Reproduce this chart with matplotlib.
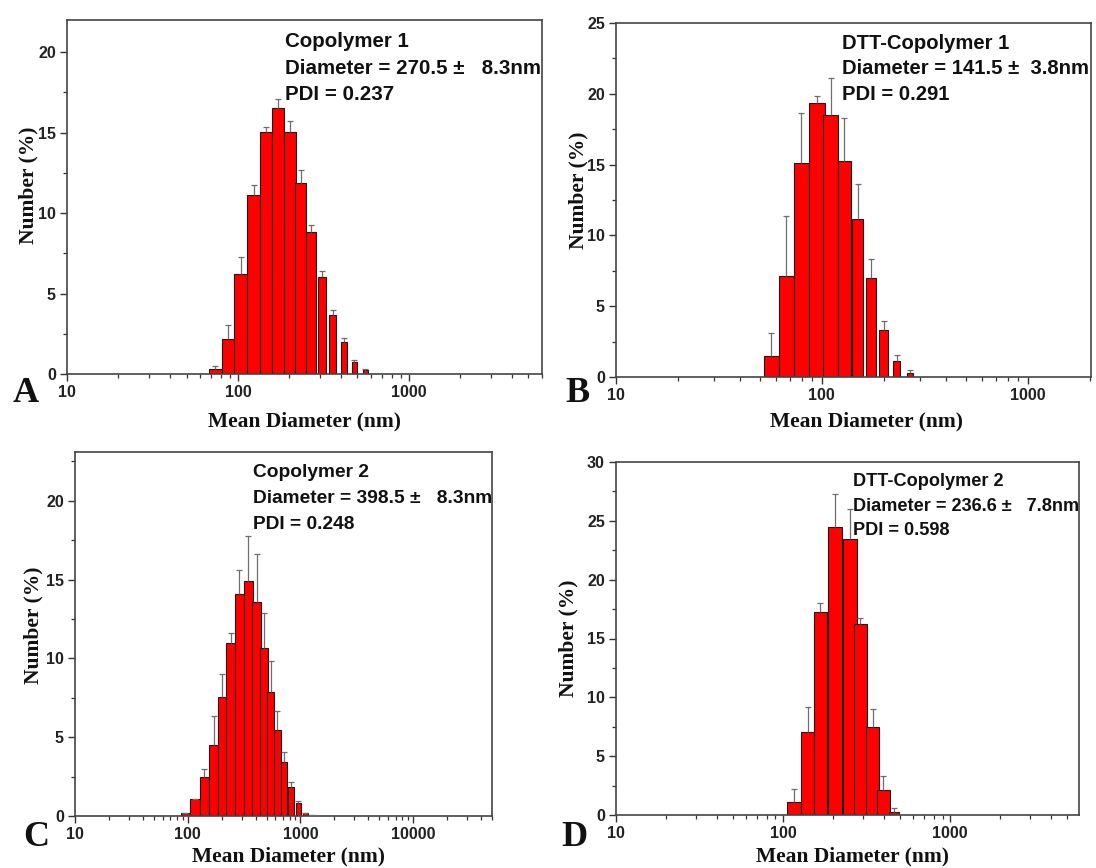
import numpy as np
import matplotlib
matplotlib.use("Agg")
import matplotlib.pyplot as plt
from matplotlib.ticker import LogLocator, FixedLocator, MultipleLocator, NullFormatter, FixedFormatter

# ---------------- data ----------------
# Panel A: Copolymer 1
a_size = [73.8, 87.7, 103.8, 123.3, 145.9, 172.2, 201.8, 232.5, 266.8, 309, 358, 415, 480, 556]
a_number = [0.29, 2.2, 6.2, 11.1, 15.05, 16.5, 15.05, 11.9, 8.8, 6.0, 3.65, 2.0, 0.75, 0.25]
a_err = [0.23, 0.84, 1.09, 0.65, 0.31, 0.62, 0.68, 0.75, 0.48, 0.38, 0.3, 0.22, 0.1, 0.05]

# Panel B: DTT-Copolymer 1
b_size = [56.7, 67.3, 79.5, 94.4, 110.4, 128.8, 149, 172.8, 200, 231, 269]
b_number = [1.46, 7.11, 15.11, 19.35, 18.48, 15.23, 11.18, 7.01, 3.34, 1.15, 0.31]
b_err = [1.64, 4.26, 3.56, 0.47, 2.62, 3.06, 2.42, 1.3, 0.61, 0.4, 0.16]

# Panel C: Copolymer 2
c_size = [95.5, 115.9, 140.7, 169.7, 203.3, 241, 285.8, 344.5, 408.6, 472.8, 545.9,
          622.9, 713.5, 825.6, 956.7, 1107, 1268]
c_number = [0.17, 1.06, 2.45, 4.49, 7.56, 11.0, 14.07, 14.9, 13.6, 10.69, 7.89,
            5.46, 3.42, 1.82, 0.85, 0.17, 0.06]
c_err = [0.03, 0.05, 0.55, 1.88, 1.46, 0.64, 1.51, 2.9, 3.0, 2.2, 1.95,
         1.23, 0.62, 0.36, 0.1, 0.03, 0.02]

# Panel D: DTT-Copolymer 2
d_size = [116.6, 140.2, 167.3, 204, 250, 290, 343, 398, 462]
d_number = [1.13, 7.08, 17.27, 24.48, 23.44, 16.22, 7.5, 2.12, 0.28]
d_err = [1.05, 2.12, 0.76, 2.82, 2.6, 0.56, 1.47, 1.22, 0.29]

# annotation texts
a_text = ["Copolymer 1", "Diameter = 270.5 \u00b1   8.3nm", "PDI = 0.237"]
b_text = ["DTT-Copolymer 1", "Diameter = 141.5 \u00b1  3.8nm", "PDI = 0.291"]
c_text = ["Copolymer 2", "Diameter = 398.5 \u00b1   8.3nm", "PDI = 0.248"]
d_text = ["DTT-Copolymer 2", "Diameter = 236.6 \u00b1   7.8nm", "PDI = 0.598"]

# ---------------- styles (bar widths in decades) ----------------
a_w = [0.078, 0.072, 0.074, 0.074, 0.072, 0.072, 0.066, 0.060, 0.056, 0.046, 0.038, 0.035, 0.033, 0.029]
b_w = [0.072, 0.076, 0.070, 0.078, 0.072, 0.062, 0.058, 0.049, 0.044, 0.033, 0.029]
c_w = [0.08, 0.085, 0.08, 0.08, 0.078, 0.078, 0.078, 0.085, 0.074, 0.068, 0.06, 0.06,
       0.058, 0.05, 0.045, 0.038, 0.038]
d_w = [0.086, 0.076, 0.080, 0.086, 0.084, 0.076, 0.074, 0.074, 0.056]

W, H = 1096, 868
fig = plt.figure(figsize=(W / 100, H / 100), dpi=100)

SANS = ["Liberation Sans", "Arial", "DejaVu Sans"]
SERIF = ["Liberation Serif", "Times New Roman", "DejaVu Serif"]


def px_axes(l, r, t, b):
    return fig.add_axes([l / W, 1 - b / H, (r - l) / W, (b - t) / H])


def fx(x):
    return x / W


def fy(y):
    return 1 - y / H


def panel(box, size, number, err, widths, xlim, ylim, ymajor, xlabels,
          text, text_xy, text_fs, line_gap, ylab_xy, xlab_xy, letter, letter_xy):
    ax = px_axes(*box)
    size = np.asarray(size, float)
    w = np.asarray(widths, float)
    left = size * 10 ** (-w / 2)
    right = size * 10 ** (w / 2)
    ax.bar(left, number, width=right - left, align="edge", color="#ff0000",
           edgecolor="#1a1a1a", linewidth=0.8, zorder=2)
    eb = ax.errorbar(size, number, yerr=[np.zeros(len(err)), err], fmt="none",
                     ecolor="#6e6e6e", elinewidth=0.9, capsize=2.5, capthick=0.9,
                     zorder=3)
    caps = eb[1]
    if len(caps) >= 1:
        caps[0].set_visible(False)
    ax.set_xscale("log")
    ax.set_xlim(*xlim)
    ax.set_ylim(*ylim)
    ax.xaxis.set_major_locator(FixedLocator(xlabels))
    ax.xaxis.set_major_formatter(FixedFormatter([str(v) for v in xlabels]))
    ax.xaxis.set_minor_locator(LogLocator(base=10, subs=np.arange(2, 10), numticks=20))
    ax.xaxis.set_minor_formatter(NullFormatter())
    ax.yaxis.set_major_locator(MultipleLocator(ymajor))
    ax.yaxis.set_minor_locator(MultipleLocator(ymajor / 2))
    ax.tick_params(axis="both", which="major", direction="out", length=5, width=1.0,
                   color="#333333", labelsize=11.5, pad=3)
    ax.tick_params(axis="both", which="minor", direction="out", length=3, width=0.9,
                   color="#333333")
    ax.tick_params(top=False, right=False, which="both")
    for lab in ax.get_xticklabels() + ax.get_yticklabels():
        lab.set_fontfamily(SANS)
        lab.set_fontweight("bold")
        lab.set_color("#222222")
    for s in ax.spines.values():
        s.set_linewidth(1.2)
        s.set_color("#444444")
    # annotation (baseline positions)
    tx, ty = text_xy
    for i, line in enumerate(text):
        fig.text(fx(tx), fy(ty + i * line_gap), line, fontsize=text_fs, fontweight="bold",
                 family=SANS, ha="left", va="baseline", color="#111111")
    fig.text(fx(ylab_xy[0]), fy(ylab_xy[1]), "Number (%)", rotation=90, fontsize=15.5,
             fontweight="bold", family=SERIF, ha="center", va="center", color="#111111")
    fig.text(fx(xlab_xy[0]), fy(xlab_xy[1]), "Mean Diameter (nm)", fontsize=15.5,
             fontweight="bold", family=SERIF, ha="center", va="center", color="#111111")
    fig.text(fx(letter_xy[0]), fy(letter_xy[1]), letter, fontsize=26,
             fontweight="bold", family=SERIF, ha="center", va="center", color="#111111")
    return ax


panel((67, 542, 20, 374), a_size, a_number, a_err, a_w, (10, 6000), (0, 22), 5,
      [10, 100, 1000], a_text, (285, 47), 14.8, 26.5, (28, 185), (305, 421), "A", (26, 394))
panel((616, 1091, 23, 377), b_size, b_number, b_err, b_w, (10, 2030), (0, 25), 5,
      [10, 100, 1000], b_text, (842, 49), 14.6, 25.5, (578, 190), (867, 421), "B", (577, 394))
panel((75, 492, 452, 816), c_size, c_number, c_err, c_w, (10, 50000), (0, 23.1), 5,
      [10, 100, 1000, 10000], c_text, (253, 477), 13.8, 26, (33, 625), (289, 856), "C", (36, 838))
panel((616, 1079, 462, 815), d_size, d_number, d_err, d_w, (10, 5900), (0, 30), 5,
      [10, 100, 1000], d_text, (853, 486), 13.1, 24.5, (568, 638), (852, 856), "D", (574, 837))

fig.savefig("out.png", dpi=100)
